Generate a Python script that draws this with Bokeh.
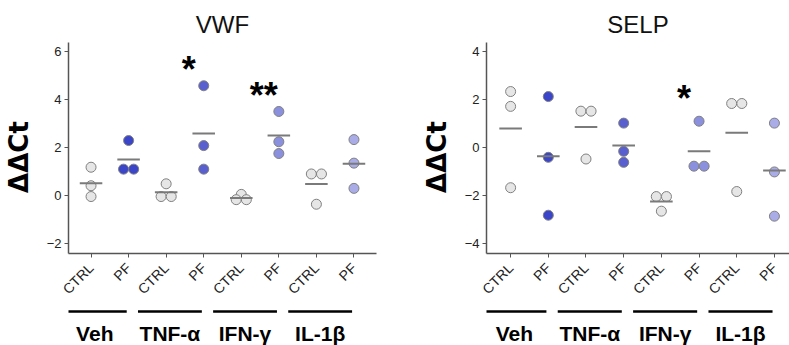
import numpy as np
from bokeh.plotting import figure
from bokeh.layouts import row, column
from bokeh.models import FixedTicker, Range1d
from bokeh.core.properties import value
from bokeh.embed import file_html
from bokeh.resources import INLINE

# ---------------- data ----------------
groups = ["Veh", "TNF-α", "IFN-γ", "IL-1β"]
conditions = ["CTRL", "PF"]

vwf_ctrl = [[1.18, 0.41, -0.04], [0.49, -0.04, -0.04], [0.05, -0.17, -0.17], [0.9, 0.9, -0.36]]
vwf_pf = [[2.29, 1.1, 1.1], [4.57, 2.08, 1.1], [3.5, 2.24, 1.75], [2.33, 1.35, 0.3]]
vwf_sig = ["", "*", "**", ""]

selp_ctrl = [[2.34, 1.72, -1.68], [1.52, 1.52, -0.48], [-2.05, -2.05, -2.66], [1.84, 1.84, -1.84]]
selp_pf = [[2.13, -0.41, -2.83], [1.02, -0.16, -0.62], [1.1, -0.78, -0.78], [1.02, -1.02, -2.87]]
selp_sig = ["", "", "*", ""]

vwf_ticks = [-2, 0, 2, 4, 6]
selp_ticks = [-4, -2, 0, 2, 4]

ctrl_color = "#e6e6e6"
pf_colors = ["#3b45c9", "#5a5fd0", "#8b90de", "#aaace7"]

FONT = "Liberation Sans"


def dodge(vals, step=0.27):
    offs = []
    for i, v in enumerate(vals):
        same = [j for j, w in enumerate(vals) if w == v]
        if len(same) == 1:
            offs.append(0.0)
        else:
            k = same.index(i)
            offs.append((k - (len(same) - 1) / 2) * step)
    return offs


def make_panel(title, ctrl, pf, sig, ticks, xr, yr, bl, br, width, sig_off):
    top = figure(width=width, height=305, x_range=Range1d(*xr), y_range=Range1d(*yr),
                 output_backend="svg", toolbar_location=None,
                 min_border_left=bl, min_border_right=br,
                 min_border_top=42, min_border_bottom=48)
    top.title.text = title
    top.title.align = "center"
    top.title.text_font = FONT
    top.title.text_font_size = "24px"
    top.title.text_font_style = "normal"
    top.title.text_color = "#111111"
    top.outline_line_color = None
    top.grid.visible = False
    top.background_fill_color = "white"

    labels = {}
    xs, ys, fills = [], [], []
    mx, my = [], []
    sx, sy, st = [], [], []
    for g in range(len(groups)):
        for c, (vals, col) in enumerate([(ctrl[g], ctrl_color), (pf[g], pf_colors[g])]):
            xc = 2 * g + 1 + c
            labels[xc] = conditions[c]
            offs = dodge(vals)
            for v, o in zip(vals, offs):
                xs.append(xc + o)
                ys.append(v)
                fills.append(col)
            mx.append(xc)
            my.append(float(np.mean(vals)))
        if sig[g]:
            sx.append(2 * g + 2 - 0.4)
            sy.append(max(pf[g]) + sig_off)
            st.append(sig[g])

    top.scatter(x=xs, y=ys, size=10, fill_color=fills, line_color="#808080", line_width=1)
    mx = np.array(mx)
    top.segment(x0=mx - 0.3, x1=mx + 0.3, y0=my, y1=my, line_color="#7a7a7a", line_width=2)
    top.text(x=sx, y=sy, text=st, text_font=value(FONT), text_font_size="36px",
             text_font_style="bold", text_align="center", text_baseline="middle",
             text_color="black")

    top.xaxis.ticker = FixedTicker(ticks=list(labels.keys()))
    top.xaxis.major_label_overrides = labels
    top.xaxis.major_label_orientation = np.pi / 4
    top.xaxis.major_label_text_font_size = "14px"
    top.yaxis.ticker = FixedTicker(ticks=ticks)
    top.yaxis.major_label_text_font_size = "13px"
    top.yaxis.axis_label = "\u0394\u0394Ct\u00a0\u00a0"
    top.yaxis.axis_label_text_font = "DejaVu Sans"
    top.yaxis.axis_label_text_font_size = "26px"
    top.yaxis.axis_label_text_font_style = "bold"
    top.yaxis.axis_label_text_color = "black"
    top.yaxis.axis_label_standoff = 10
    for ax in [top.xaxis[0], top.yaxis[0]]:
        ax.axis_line_color = "#555555"
        ax.axis_line_width = 1.5
        ax.major_tick_line_color = "#555555"
        ax.major_tick_out = 4
        ax.major_tick_in = 0
        ax.minor_tick_out = 0
        ax.minor_tick_in = 0
        ax.major_label_text_font = FONT
        ax.major_label_text_color = "#222222"
        ax.major_label_standoff = 3
    top.xaxis.major_label_standoff = 8

    bot = figure(width=width, height=40, x_range=top.x_range, y_range=Range1d(0, 1),
                 output_backend="svg", toolbar_location=None,
                 x_axis_location=None, y_axis_location=None,
                 min_border_left=bl, min_border_right=br,
                 min_border_top=0, min_border_bottom=0)
    bot.outline_line_color = None
    bot.grid.visible = False
    centers = np.array([2 * g + 1.5 - 0.4 for g in range(len(groups))])
    bot.segment(x0=centers - 0.85, x1=centers + 0.85, y0=0.85, y1=0.85,
                line_color="black", line_width=2.5)
    bot.text(x=centers, y=[0.3] * len(groups), text=groups, text_font=value(FONT),
             text_font_size="21px", text_font_style="bold", text_align="center",
             text_baseline="middle", text_color="black")
    return column(top, bot, spacing=0)


left = make_panel("VWF", vwf_ctrl, vwf_pf, vwf_sig, vwf_ticks,
                  (0.4, 8.6), (-2.41, 6.37), 67, 24, 400, 0.68)
right = make_panel("SELP", selp_ctrl, selp_pf, selp_sig, selp_ticks,
                   (0.36, 8.40), (-4.43, 4.39), 86, 0, 389, 0.95)

p = row(left, right, spacing=0)

open("out.html", "w").write(file_html(p, INLINE))
